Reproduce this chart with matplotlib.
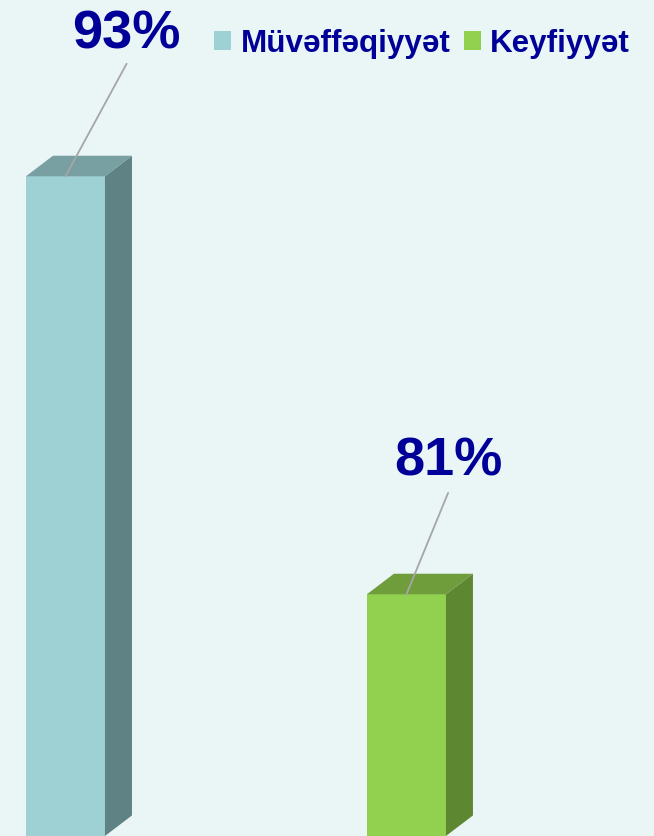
import matplotlib.pyplot as plt
from matplotlib.patches import Polygon, Patch

# chart values
categories = ["Müvəffəqiyyət", "Keyfiyyət"]
values = [93, 81]
labels = ["93%", "81%"]

front_colors = ["#9DD1D4", "#92D050"]
side_colors = ["#5F8384", "#5E8732"]
top_colors = ["#789FA1", "#6F9D3B"]
bg = "#EAF6F6"
navy = "#000099"

plt.rcParams['font.family'] = ['Liberation Sans', 'DejaVu Sans']

fig = plt.figure(figsize=(6.54, 8.37), dpi=100, facecolor=bg)
ax = fig.add_axes([0, 0, 1, 1])
ax.set_facecolor(bg)

# scale: one category step = 341 px, one percent = 34.83 px
ax.set_xlim(-0.192, 1.726)
ax.set_ylim(74.06, 98.09)
ax.axis('off')

width = 0.2317
dx, dy = 0.0792, 0.59
ymin = ax.get_ylim()[0]
xs = range(len(values))

ax.bar(xs, [v - ymin for v in values], bottom=ymin, width=width,
       color=front_colors, edgecolor='none', zorder=2)

for x, v, sc, tc in zip(xs, values, side_colors, top_colors):
    l, r = x - width / 2, x + width / 2
    side = Polygon([(r, ymin), (r + dx, ymin + dy), (r + dx, v + dy), (r, v)],
                   closed=True, facecolor=sc, edgecolor='none', zorder=2)
    top = Polygon([(l, v), (l + dx, v + dy), (r + dx, v + dy), (r, v)],
                  closed=True, facecolor=tc, edgecolor='none', zorder=2)
    ax.add_patch(side)
    ax.add_patch(top)

# data labels with leader lines
line_offsets = [(44, 81), (30, 73)]
text_offsets = [(44, 102.5), (30, 96)]
for x, v, lab, lo, to in zip(xs, values, labels, line_offsets, text_offsets):
    ax.annotate('', xy=(x, v), xytext=lo, textcoords='offset points',
                arrowprops=dict(arrowstyle='-', color='#A6A6A6', lw=1.3,
                                shrinkA=0, shrinkB=0), zorder=3)
    ax.annotate(lab, xy=(x, v), xytext=to, textcoords='offset points',
                ha='center', va='center', fontsize=39, fontweight='bold',
                color=navy, zorder=4)

handles = [Patch(facecolor=c, edgecolor='none') for c in front_colors]
fig.legend(handles, categories, loc='upper left', bbox_to_anchor=(0.327, 0.965),
           ncol=2, frameon=False, labelcolor=navy,
           prop=dict(weight='bold', size=22.6),
           handlelength=0.55, handleheight=0.55, handletextpad=0.3,
           columnspacing=0.42, borderpad=0, borderaxespad=0)

fig.savefig("out.png", dpi=100, facecolor=bg)
